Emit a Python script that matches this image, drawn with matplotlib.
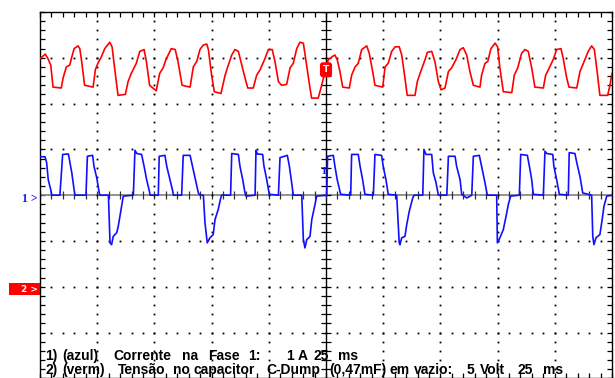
import numpy as np
import matplotlib
matplotlib.use('Agg')
import matplotlib.pyplot as plt
from matplotlib.ticker import MultipleLocator
from matplotlib.patches import Rectangle

# scope settings
MS_PER_DIV = 25
VOLT_PER_DIV = 5
AMP_PER_DIV = 1
CH2_GROUND_DIV = -2
TRIG_LEVEL_V = 23.7

# ch2 (red): capacitor voltage, V
red_t = [0, 2.3, 3.5, 4.7, 5.7, 9.3, 10.1, 11.5, 13.0, 13.7, 14.9, 16.6, 17.4, 18.1, 19.5,
         23.2, 24.2, 25.3, 26.8, 28.3, 30.5, 31.5, 32.6, 34.1, 37.3, 38.5, 39.9, 42.1, 43.6,
         45.5, 46.5, 47.9, 50.8, 52.3, 53.8, 55.2, 57.4, 59.1, 60.3, 62.1, 65.6, 67.0, 68.5,
         69.9, 71.4, 72.9, 73.6, 75.0, 76.2, 79.1, 80.9, 82.3, 83.8, 85.2, 86.7, 87.8, 89.6,
         90.8, 93.2, 94.7, 96.2, 98.3, 99.8, 101.5, 102.7, 104.2, 105.6, 107.8, 109.3, 110.7,
         112.2, 113.6, 115.1, 116.1, 118.0, 118.7, 121.6, 123.1, 124.6, 126.0, 128.2, 128.9,
         129.9, 131.1, 132.3, 135.2, 136.2, 137.7, 139.1, 140.6, 142.8, 143.9, 145.4, 146.4,
         149.8, 150.8, 152.2, 153.7, 155.2, 157.0, 158.1, 159.5, 160.5, 163.9, 164.9, 166.4,
         168.3, 169.3, 171.2, 172.6, 174.1, 175.3, 177.0, 178.5, 179.9, 181.8, 183.6, 185.0,
         186.5, 187.9, 189.4, 192.3, 193.0, 194.5, 195.7, 197.1, 198.9, 200.0, 201.0, 202.5,
         206.2, 207.3, 208.8, 210.5, 212.0, 213.4, 214.9, 216.3, 220.0, 221.0, 222.2, 224.3,
         225.8, 227.7, 228.7, 230.2, 231.2, 234.6, 236.0, 237.5, 239.6, 241.1, 242.3, 243.7,
         244.7, 248.1, 249.1, 250.0]
red_v = [24.9, 25.4, 24.9, 24.2, 21.8, 21.7, 22.8, 24.0, 24.2, 24.9, 26.0, 26.3, 26.0, 24.8, 22.0,
         21.8, 23.7, 24.4, 25.1, 26.0, 26.7, 26.2, 23.9, 20.9, 21.0, 22.4, 23.3, 24.4, 25.7,
         25.9, 24.6, 22.0, 21.4, 23.3, 23.9, 24.9, 26.0, 25.9, 24.6, 22.0, 21.8, 24.0, 24.6,
         25.9, 26.4, 26.5, 25.9, 23.1, 21.3, 21.1, 23.1, 24.2, 25.3, 25.9, 25.7, 24.6, 22.8,
         21.7, 21.7, 23.1, 23.7, 24.9, 25.9, 25.9, 24.6, 22.4, 22.0, 22.1, 23.9, 24.4,
         26.0, 26.7, 26.6, 24.9, 21.7, 20.6, 20.6, 22.0, 23.5, 24.8, 25.2, 25.3,
         24.8, 23.5, 21.8, 21.7, 23.1, 24.0, 24.4, 25.9, 26.3, 25.5, 23.5, 22.0,
         21.8, 24.0, 24.4, 25.7, 26.2, 26.2, 25.3, 22.8, 20.9, 20.9, 22.4, 23.5,
         24.8, 25.6, 25.7, 24.6, 22.4, 21.5, 21.7, 23.5, 23.9, 24.8, 25.9, 26.1,
         25.3, 23.5, 22.0, 21.8, 23.1, 24.4, 24.6, 26.0, 26.6, 26.2, 23.9, 21.3,
         21.2, 23.1, 23.9, 25.5, 25.9, 25.7, 23.9, 21.8, 21.7, 23.1, 23.7, 24.8,
         25.9, 26.0, 24.9, 22.8, 21.8, 21.7, 23.5, 24.4, 25.7, 26.3, 25.9, 23.1,
         20.9, 20.9, 22.0, 23.3]

# ch1 (blue): phase 1 current, A
blue_t = [0, 2.2, 2.9, 3.6, 4.7, 5.1, 8.7, 9.9, 12.4, 13.1, 13.9, 14.9, 15.3, 20.1, 20.7, 23.0,
          23.6, 24.8, 25.9, 26.2, 29.9, 30.6, 31.3, 32.0, 33.5, 34.2, 35.3, 36.4, 40.8, 41.5,
          42.3, 44.4, 45.5, 46.6, 47.8, 48.1, 51.7, 52.1, 54.6, 55.4, 56.8, 58.0, 58.3, 61.9,
          62.6, 65.6, 66.3, 67.7, 69.2, 69.9, 71.4, 72.1, 73.1, 74.3, 75.7, 76.5, 77.9, 79.0,
          79.4, 83.3, 83.8, 86.7, 87.4, 88.6, 89.6, 90.0, 94.0, 94.4, 95.0, 97.3, 97.9, 99.1,
          100.2, 104.2, 104.9, 108.1, 109.0, 110.0, 110.7, 114.4, 115.1, 115.8, 116.6, 118.0,
          118.8, 120.2, 120.9, 125.3, 125.7, 128.2, 128.9, 129.9, 131.4, 135.8, 136.2, 139.1,
          139.9, 141.0, 142.0, 145.7, 146.4, 149.3, 150.0, 151.2, 152.2, 155.9, 157.0, 157.3,
          158.1, 159.5, 160.3, 161.4, 162.9, 163.5, 167.3, 167.8, 168.7, 171.2, 171.9, 173.1,
          174.1, 177.8, 178.5, 181.4, 182.1, 183.6, 184.3, 186.5, 188.7, 189.4, 192.0, 193.0,
          194.5, 195.5, 199.6, 199.9, 201.0, 202.5, 203.7, 204.7, 205.7, 209.5, 210.1, 213.0,
          213.9, 214.9, 215.6, 220.0, 220.7, 221.5, 224.1, 224.6, 225.8, 227.0, 230.9, 231.3,
          233.8, 234.6, 236.0, 237.2, 241.1, 241.6, 242.1, 243.0, 244.7, 245.5, 246.5, 247.7,
          250.0]
blue_i = [0.84, 0.84, 0.71, 0.34, 0.12, 0, 0, 0.89, 0.90, 0.71, 0.49, 0.12, 0, 0, 0.85, 0.87,
          0.63, 0.38, 0.05, 0, 0, -1.04, -1.08, -0.90, -0.82, -0.68, -0.35, -0.02, 0, 0.98,
          0.91, 0.89, 0.63, 0.34, 0.09, 0, 0, 0.85, 0.87, 0.63, 0.34, 0.09, 0, 0,
          0.87, 0.87, 0.71, 0.38, 0.05, 0, 0, -0.60, -1.04, -0.93, -0.86, -0.53, -0.31, -0.06,
          0, 0, 0.91, 0.89, 0.63, 0.34, 0.05, -0.02, 0, 0.98, 0.90, 0.89, 0.63, 0.34,
          0.02, 0, 0.82, 0.87, 0.63, 0.27, 0, 0, -0.97, -1.15, -0.97, -0.90,
          -0.53, -0.20, -0.02, 0, 0.85, 0.87, 0.63, 0.34, 0.02, 0, 0.89, 0.89,
          0.63, 0.34, 0.02, 0, 0.89, 0.87, 0.63, 0.34, 0.02, 0, -1.04, -1.08,
          -0.93, -0.90, -0.64, -0.35, -0.06, 0, 0, 1.0, 0.89, 0.89, 0.49, 0.27,
          0, 0, 0.85, 0.85, 0.63, 0.34, 0.02, -0.06, 0, 0.85, 0.87, 0.63,
          0.27, 0, 0, -1.04, -0.93, -0.75, -0.46, -0.20, -0.02, 0, 0.89, 0.87,
          0.63, 0.34, 0.02, 0, 0.96, 0.91, 0.89, 0.63, 0.34, 0.02, 0, 0.93,
          0.91, 0.71, 0.41, 0.05, 0, -0.90, -1.08, -0.93, -0.86, -0.60, -0.24, -0.02,
          0]

line1 = ['1)', '(azul)', 'Corrente', 'na', 'Fase', '1:', '1', 'A', '25', 'ms']
line2 = ['2)', '(verm)', 'Tensão', 'no', 'capacitor', 'C-Dump', '(0,47mF)', 'em', 'vazio:',
         '5', 'Volt', '25', 'ms']
# left pixel of each word in the screenshot
line1_x = [45, 62, 113, 182, 208, 248, 286, 298, 313, 338]
line2_x = [45, 62, 118, 173, 193, 266, 329, 390, 414, 467, 480, 517, 543]

W, H = 615, 378
RED = '#ff0000'
BLUE = '#1010ff'

fig = plt.figure(figsize=(W / 100, H / 100), dpi=100)
ax = fig.add_axes([40 / W, -0.4 / H, 572 / W, 366.4 / H])
ax.set_xlim(0, 10 * MS_PER_DIV)
ax.set_ylim(-4, 4)

# graticule dots
for k in range(1, 10):
    if k == 5:
        continue
    ys = np.arange(-4, 4.01, 0.2)
    ax.plot(np.full_like(ys, k * MS_PER_DIV), ys, 's', ms=1.3, color='k', mew=0, zorder=3)
for j in range(-3, 4):
    if j == 0:
        continue
    xs = np.arange(0, 250.1, MS_PER_DIV / 5)
    ax.plot(xs, np.full_like(xs, j), 's', ms=1.3, color='k', mew=0, zorder=3)

# center crosshair with ticks
ax.axhline(0, color='#808080', lw=1.2, zorder=2)
ax.axvline(125, color='k', lw=1.0, zorder=2)
xs = np.arange(0, 250.1, MS_PER_DIV / 5)
ax.plot(xs, np.zeros_like(xs), '|', ms=6, mew=0.9, color='#303030', zorder=2)
ys = np.arange(-4, 4.01, 0.2)
ax.plot(np.full_like(ys, 125), ys, '_', ms=7, mew=0.9, color='k', zorder=2)

# border ticks
ax.xaxis.set_major_locator(MultipleLocator(MS_PER_DIV))
ax.xaxis.set_minor_locator(MultipleLocator(MS_PER_DIV / 5))
ax.yaxis.set_major_locator(MultipleLocator(1))
ax.yaxis.set_minor_locator(MultipleLocator(0.2))
ax.tick_params(which='both', direction='in', top=True, right=True, length=3.5, width=0.9,
               labelbottom=False, labelleft=False)
for s in ax.spines.values():
    s.set_linewidth(1.0)

# traces
ax.plot(red_t, np.array(red_v) / VOLT_PER_DIV + CH2_GROUND_DIV, color=RED, lw=1.2, zorder=4)
ax.plot(blue_t, np.array(blue_i) / AMP_PER_DIV, color=BLUE, lw=1.2, zorder=4)

# trigger markers
ax.text(125, TRIG_LEVEL_V / VOLT_PER_DIV + CH2_GROUND_DIV, 'T', color='white', fontsize=6.5,
        fontweight='bold', ha='center', va='center', zorder=6,
        bbox=dict(boxstyle='round,pad=0.25', fc=RED, ec=RED))
ax.text(124.3, 0.52, 'T', color=BLUE, fontsize=7.5, fontweight='bold', ha='center', va='center',
        family='Liberation Serif', zorder=6)

# channel ground markers
fig.text(22 / W, 1 - 199 / H, '1 >', color=BLUE, fontsize=8.5, fontweight='bold',
         family='Liberation Serif', ha='left', va='center')
fig.patches.append(Rectangle((9 / W, 1 - 295 / H), 31 / W, 12 / H, transform=fig.transFigure,
                             fc=RED, ec='none'))
fig.text(38 / W, 1 - 289 / H, '2 >', color='white', fontsize=6.5, fontweight='bold',
         ha='right', va='center')

# caption
for word, x in zip(line1, line1_x):
    fig.text(x / W, 1 - 356 / H, word, fontsize=10, fontweight='bold',
             family='Liberation Sans', ha='left', va='center', zorder=1)
for word, x in zip(line2, line2_x):
    fig.text(x / W, 1 - 370 / H, word, fontsize=10, fontweight='bold',
             family='Liberation Sans', ha='left', va='center', zorder=1)

fig.savefig('out.png', dpi=100)
